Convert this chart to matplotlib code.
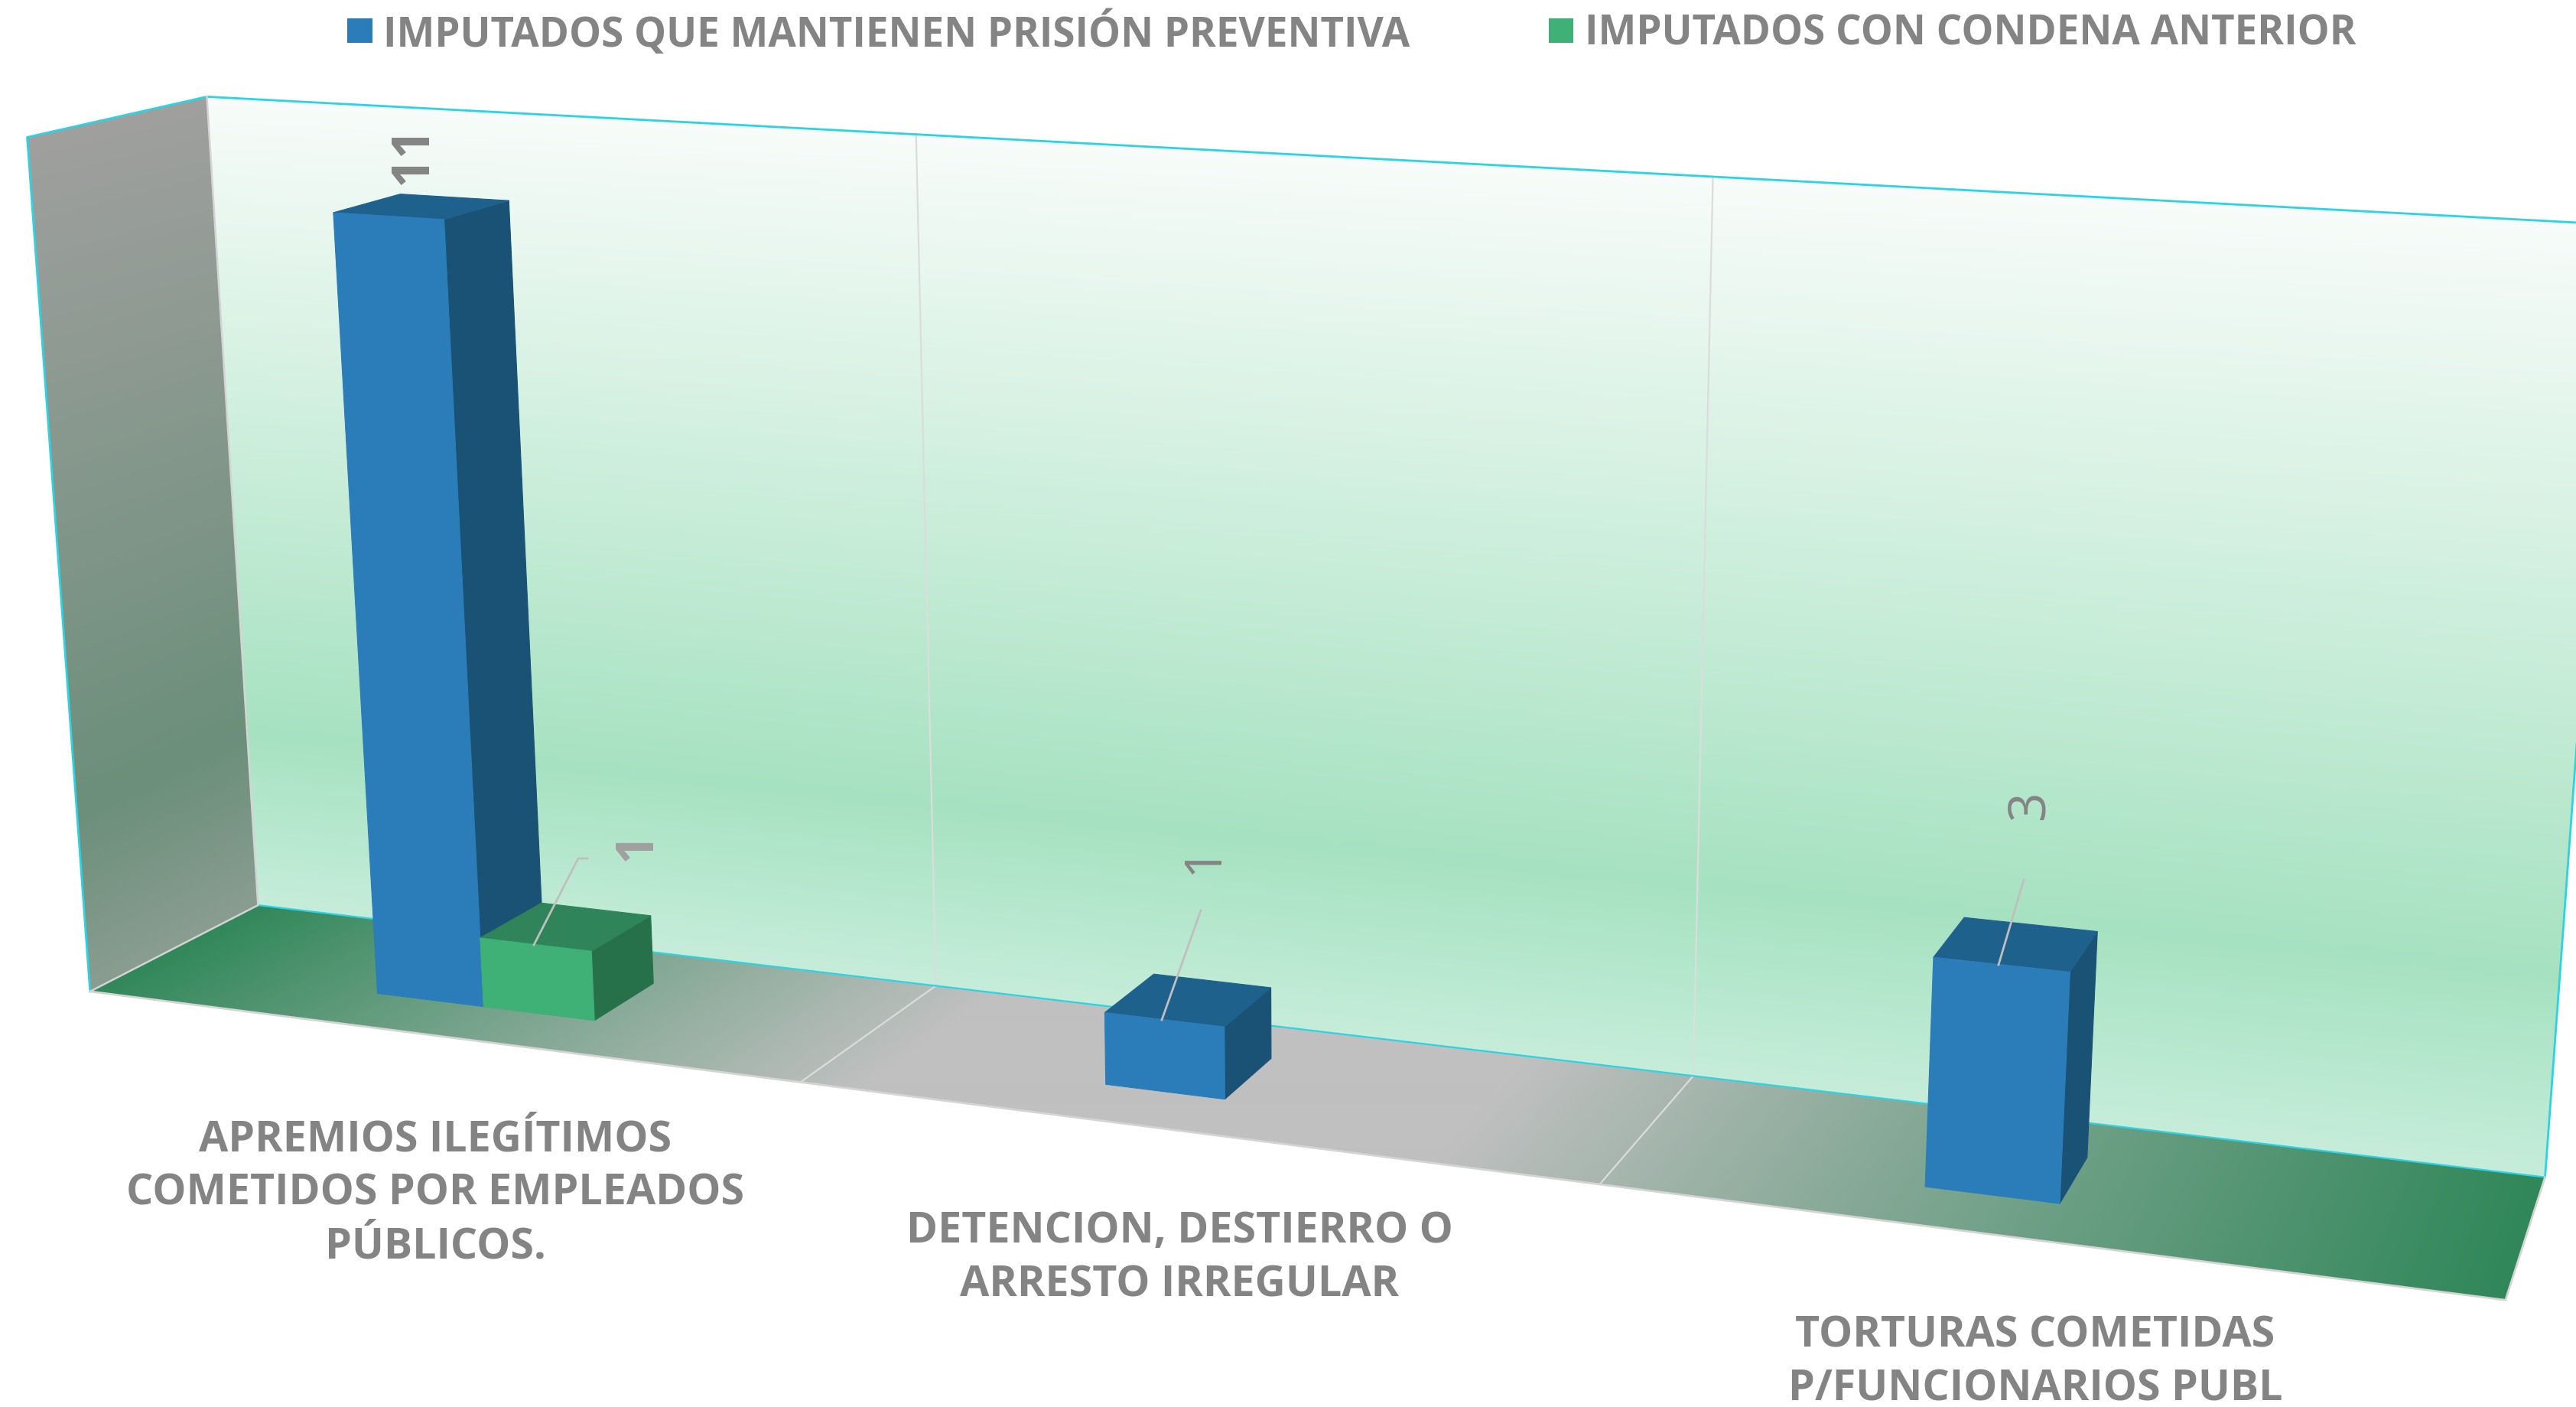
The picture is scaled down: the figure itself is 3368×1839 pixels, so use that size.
import numpy as np
import matplotlib
matplotlib.use("Agg")
import matplotlib.pyplot as plt
from matplotlib.patches import Polygon, Rectangle
from matplotlib.colors import LinearSegmentedColormap

# ---------- data ----------
categories = ["APREMIOS ILEGÍTIMOS\nCOMETIDOS POR EMPLEADOS\nPÚBLICOS.",
              "DETENCION, DESTIERRO O\nARRESTO IRREGULAR",
              "TORTURAS COMETIDAS\nP/FUNCIONARIOS PUBL"]
series_names = ["IMPUTADOS QUE MANTIENEN PRISIÓN PREVENTIVA",
                "IMPUTADOS CON CONDENA ANTERIOR"]
prision_preventiva = [11, 1, 3]
condena_anterior = [1, None, None]

# ---------- style / layout ----------
W, H = 3368, 1839
FONT = ["Open Sans", "DejaVu Sans"]
GREY = "#848484"
CYAN = "#2bd3e3"
EDGE = "#d4d4d4"
BLUE = ("#2a7db8", "#1a5276", "#1f618d")
GREEN = ("#3fb076", "#27714a", "#2f8559")
AXIS_MAX = 12
BAR_T = (0.347, 0.500, 0.657)
BAR_D = (0.305, 0.705)

# camera: (category pos, depth 0=front 1=back, value) -> pixel
REF = [((0, 0, 0), (118, 1296)), ((0, 1, 0), (337, 1183)), ((3, 1, 0), (3328, 1537)),
       ((3, 0, 0), (3275, 1699)), ((0, 0, AXIS_MAX), (36, 178)), ((0, 1, AXIS_MAX), (271, 125)),
       ((3, 1, AXIS_MAX), (3420, 293)), ((1, 1, 0), (1224, 1289)), ((2, 1, 0), (2214, 1406)),
       ((1, 1, AXIS_MAX), (1197, 178)), ((2, 1, AXIS_MAX), (2238, 232)),
       ((1, 0, 0), (1046, 1415)), ((2, 0, 0), (2092, 1549))]
A, b = [], []
for (X, Y, Z), (u, v) in REF:
    u, v = u / 1000, v / 1000
    A.append([X, Y, Z, 1, 0, 0, 0, 0, -u * X, -u * Y, -u * Z]); b.append(u)
    A.append([0, 0, 0, 0, X, Y, Z, 1, -v * X, -v * Y, -v * Z]); b.append(v)
p = np.linalg.lstsq(np.array(A, float), np.array(b, float), rcond=None)[0]
P = np.array([[p[0] * 1000, p[1] * 1000, p[2] * 1000, p[3] * 1000],
              [p[4] * 1000, p[5] * 1000, p[6] * 1000, p[7] * 1000],
              [p[8], p[9], p[10], 1.0]])


def proj(x, y, z):
    q = P @ np.array([x, y, z, 1.0])
    return q[0] / q[2], q[1] / q[2]


fig = plt.figure(figsize=(W / 100, H / 100), dpi=100, facecolor="white")
ax = fig.add_axes([0, 0, 1, 1])
ax.set_xlim(0, W)
ax.set_ylim(H, 0)
ax.axis("off")

xx, yy = np.meshgrid(np.arange(0, W, 2) + 1.0, np.arange(0, H, 2) + 1.0)


def plane_coords(M):
    Hi = np.linalg.inv(M)
    d = Hi[2, 0] * xx + Hi[2, 1] * yy + Hi[2, 2]
    return (Hi[0, 0] * xx + Hi[0, 1] * yy + Hi[0, 2]) / d, (Hi[1, 0] * xx + Hi[1, 1] * yy + Hi[1, 2]) / d


def grad_face(corners, s, stops, z):
    cmap = LinearSegmentedColormap.from_list("g", stops, N=512)
    im = ax.imshow(cmap(np.clip(s, 0, 1)), extent=(0, W, H, 0), zorder=z,
                   aspect="auto", interpolation="bilinear")
    poly = Polygon(corners, closed=True, transform=ax.transData, fc="none", ec="none")
    ax.add_patch(poly)
    im.set_clip_path(poly)


# walls and floor
c = {k: proj(*k) for k in [(0, 0, 0), (0, 1, 0), (3, 1, 0), (3, 0, 0),
                           (0, 0, AXIS_MAX), (0, 1, AXIS_MAX), (3, 1, AXIS_MAX)]}
LFB, LBB, RBB, RFB = c[(0, 0, 0)], c[(0, 1, 0)], c[(3, 1, 0)], c[(3, 0, 0)]
LFT, LBT, RBT = c[(0, 0, AXIS_MAX)], c[(0, 1, AXIS_MAX)], c[(3, 1, AXIS_MAX)]

Mw = np.column_stack([P[:, 0], P[:, 2], P[:, 1] + P[:, 3]])
_, zw = plane_coords(Mw)
grad_face([LBT, RBT, RBB, LBB], 1 - zw / AXIS_MAX,
          [(0, "#f8fcfa"), (0.78, "#a6e2c1"), (1, "#c6edda")], 1)

Ml = np.column_stack([P[:, 1], P[:, 2], P[:, 3]])
_, zl = plane_coords(Ml)
grad_face([LFT, LBT, LBB, LFB], 1 - zl / AXIS_MAX,
          [(0, "#a0a09f"), (0.78, "#6b8f7a"), (1, "#8a9d91")], 2)

Mf = np.column_stack([P[:, 0], P[:, 1], P[:, 3]])
uf, _ = plane_coords(Mf)
grad_face([LBB, RBB, RFB, LFB], uf / 3,
          [(0, "#31885a"), (0.36, "#c0c0c0"), (0.6, "#c0c0c0"), (1, "#30875a")], 3)

# gridlines
for k in (1, 2):
    bx, by = proj(k, 1, 0)
    tx, ty = proj(k, 1, AXIS_MAX)
    fx, fy = proj(k, 0, 0)
    ax.plot([tx, bx, fx], [ty, by, fy], color="#dcdcdc", lw=1.6, zorder=4,
            solid_joinstyle="miter")

# frame lines
ax.plot(*zip(LFB, LFT, LBT, RBT, RBB), color=CYAN, lw=2.0, zorder=5)
ax.plot(*zip(LBB, RBB), color=CYAN, lw=1.6, zorder=5)
ax.plot(*zip(LBT, LBB, LFB), color=EDGE, lw=1.8, zorder=5)
ax.plot(*zip(LFB, RFB, RBB), color=EDGE, lw=2.0, zorder=5)


# bars
def bar(t0, t1, value, colors, z):
    d0, d1 = BAR_D
    fb0, fb1 = proj(t0, d0, 0), proj(t1, d0, 0)
    bb1 = proj(t1, d1, 0)
    ft0, ft1 = proj(t0, d0, value), proj(t1, d0, value)
    bt0, bt1 = proj(t0, d1, value), proj(t1, d1, value)
    ax.add_patch(Polygon([ft1, bt1, bb1, fb1], fc=colors[1], ec=colors[1], lw=0.8, zorder=z))
    ax.add_patch(Polygon([ft0, bt0, bt1, ft1], fc=colors[2], ec=colors[2], lw=0.8, zorder=z))
    ax.add_patch(Polygon([fb0, fb1, ft1, ft0], fc=colors[0], ec=colors[0], lw=0.8, zorder=z))


for i, v in enumerate(prision_preventiva):
    if v:
        bar(i + BAR_T[0], i + BAR_T[1], v, BLUE, 6)
for i, v in enumerate(condena_anterior):
    if v:
        bar(i + BAR_T[1], i + BAR_T[2], v, GREEN, 7)

# leader lines
for pts in ([(698, 1235), (756, 1122), (768, 1122)],
            [(1519, 1333), (1570, 1190)],
            [(2613, 1261), (2646, 1150)]):
    ax.plot(*zip(*pts), color="#bfbfbf", lw=2.0, zorder=8, solid_joinstyle="miter")

# value labels
labels = [(prision_preventiva[0], 540, 202, "bold", GREY),
          (condena_anterior[0], 833, 1106, "bold", "#a0a0a0"),
          (prision_preventiva[1], 1574, 1123, "normal", GREY),
          (prision_preventiva[2], 2654, 1052, "normal", GREY)]
for val, x, y, wgt, col in labels:
    ax.text(x, y, str(val), rotation=90, ha="center", va="center", fontsize=49,
            fontweight=wgt, color=col, family=FONT, zorder=9)

# category labels
for txt, x, y in zip(categories, (569, 1542, 2661), (1560, 1645, 1781)):
    ax.text(x, y, txt, ha="center", va="center", fontsize=40, fontweight="bold",
            color=GREY, family=FONT, linespacing=1.36, zorder=9)

# legend
for (x0, x1, tx), name, col in zip([(454, 487, 501), (2025, 2057, 2072)], series_names,
                                   (BLUE[0], GREEN[0])):
    ax.add_patch(Rectangle((x0, 24), x1 - x0, 32, fc=col, ec="none", zorder=9))
    ax.text(tx, 44, name, ha="left", va="center", fontsize=38.1, fontweight="bold",
            color=GREY, family=FONT, zorder=9)

fig.savefig("out.png", dpi=100, facecolor="white")
